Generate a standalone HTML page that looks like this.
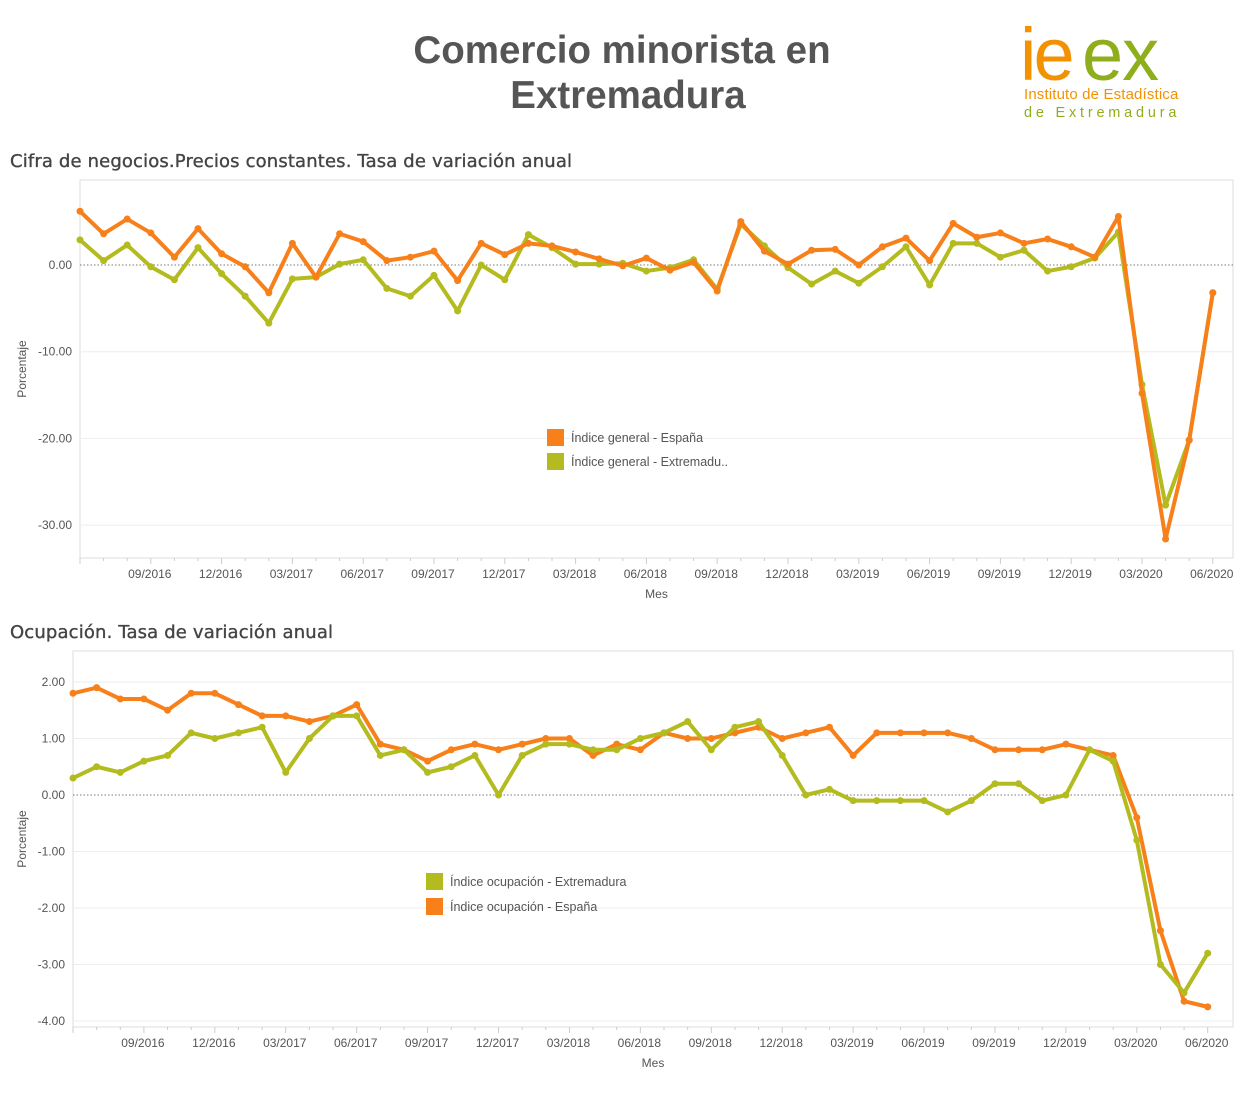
<!DOCTYPE html>
<html><head><meta charset="utf-8">
<style>
body{margin:0;background:#fff;width:1248px;height:1100px;overflow:hidden;font-family:"Liberation Sans",sans-serif;}
</style></head>
<body>
<svg id="s" width="1248" height="1100" xmlns="http://www.w3.org/2000/svg" font-family="Liberation Sans, sans-serif">
<text x="622" y="63" text-anchor="middle" font-size="38.5" font-weight="bold" fill="#555">Comercio minorista en</text>
<text x="628" y="108" text-anchor="middle" font-size="38.5" font-weight="bold" fill="#555">Extremadura</text>
<text x="1020" y="80" font-size="74" fill="#f39200" letter-spacing="-3">ie</text>
<text x="1082" y="80" font-size="74" fill="#8fae1b" letter-spacing="-1">ex</text>
<text x="1024" y="99" font-size="15" fill="#f39200" letter-spacing="-0.3" textLength="154">Instituto de Estadística</text>
<text x="1024" y="117" font-size="14.5" fill="#8fae1b" letter-spacing="2.6" textLength="155">de Extremadura</text>
<text x="10" y="167" font-size="18" fill="#444" stroke="#444" stroke-width="0.35" font-family="DejaVu Sans, sans-serif" textLength="562">Cifra de negocios.Precios constantes. Tasa de variación anual</text>
<text x="10" y="638" font-size="18" fill="#444" stroke="#444" stroke-width="0.35" font-family="DejaVu Sans, sans-serif" textLength="323">Ocupación. Tasa de variación anual</text>
<g id="g1"></g><g id="g2"></g>
</svg>
<script>
const NS="http://www.w3.org/2000/svg";
function el(p,t,a,txt){const e=document.createElementNS(NS,t);for(const k in a)e.setAttribute(k,a[k]);if(txt!==undefined)e.textContent=txt;p.appendChild(e);return e;}
const O="#f7801a",G="#b3bb1f";
const ticks=["09/2016","12/2016","03/2017","06/2017","09/2017","12/2017","03/2018","06/2018","09/2018","12/2018","03/2019","06/2019","09/2019","12/2019","03/2020","06/2020"];
function chart(g,c){
 const X=i=>c.x0+i*c.dx, Y=v=>c.y0-v*c.k;
 el(g,"rect",{x:c.L,y:c.T,width:c.R-c.L,height:c.B-c.T,fill:"none",stroke:"#ddd"});
 c.yt.forEach(v=>{ if(v!==0) el(g,"line",{x1:c.L,x2:c.R,y1:Y(v),y2:Y(v),stroke:"#eee"});
  el(g,"text",{x:c.L-8,y:Y(v)+4,"text-anchor":"end","font-size":12,fill:"#555"},v.toFixed(2));});
 el(g,"line",{x1:c.L,x2:c.R,y1:Y(0),y2:Y(0),stroke:"#777","stroke-dasharray":"1.5,2"});
 for(let i=0;i<49;i++){el(g,"line",{x1:X(i),x2:X(i),y1:c.B,y2:c.B+(i%3==0?6:3),stroke:"#ccc"});}
 ticks.forEach((t,j)=>el(g,"text",{x:X(3+3*j)-1,y:c.B+20,"text-anchor":"middle","font-size":12,fill:"#555"},t));
 el(g,"text",{x:(c.L+c.R)/2,y:c.B+40,"text-anchor":"middle","font-size":12,fill:"#555"},"Mes");
 el(g,"text",{x:0,y:0,transform:`translate(26,${(c.T+c.B)/2}) rotate(-90)`,"text-anchor":"middle","font-size":12,fill:"#555"},"Porcentaje");
 c.series.forEach(s=>{
  el(g,"polyline",{points:s.d.map((v,i)=>X(i)+","+Y(v)).join(" "),fill:"none",stroke:s.c,"stroke-width":4,"stroke-linejoin":"round"});
  s.d.forEach((v,i)=>el(g,"circle",{cx:X(i),cy:Y(v),r:3.5,fill:s.c}));
 });
 c.leg.forEach((l,j)=>{el(g,"rect",{x:l.x,y:l.y-8,width:17,height:17,fill:l.c});
  el(g,"text",{x:l.x+24,y:l.y+5,"font-size":12.5,fill:"#555"},l.t);});
}
const e1=[6.2,3.6,5.3,3.7,0.9,4.2,1.3,-0.2,-3.2,2.5,-1.4,3.6,2.7,0.5,0.9,1.6,-1.8,2.5,1.2,2.5,2.2,1.5,0.7,-0.1,0.8,-0.6,0.3,-3.0,5.0,1.6,0.1,1.7,1.8,0,2.1,3.1,0.5,4.8,3.2,3.7,2.5,3.0,2.1,0.9,5.6,-14.8,-31.6,-20.2,-3.2];
const x1=[2.9,0.5,2.3,-0.2,-1.7,2.0,-1.0,-3.6,-6.7,-1.6,-1.4,0.1,0.6,-2.7,-3.6,-1.2,-5.3,0,-1.7,3.5,2.0,0.1,0.1,0.2,-0.7,-0.3,0.6,-2.8,4.7,2.2,-0.3,-2.2,-0.7,-2.1,-0.2,2.1,-2.3,2.5,2.5,0.9,1.7,-0.7,-0.2,0.8,3.8,-13.8,-27.7,-20.2,-3.2];
const e2=[1.8,1.9,1.7,1.7,1.5,1.8,1.8,1.6,1.4,1.4,1.3,1.4,1.6,0.9,0.8,0.6,0.8,0.9,0.8,0.9,1.0,1.0,0.7,0.9,0.8,1.1,1.0,1.0,1.1,1.2,1.0,1.1,1.2,0.7,1.1,1.1,1.1,1.1,1.0,0.8,0.8,0.8,0.9,0.8,0.7,-0.4,-2.4,-3.65,-3.75];
const x2=[0.3,0.5,0.4,0.6,0.7,1.1,1.0,1.1,1.2,0.4,1.0,1.4,1.4,0.7,0.8,0.4,0.5,0.7,0.0,0.7,0.9,0.9,0.8,0.8,1.0,1.1,1.3,0.8,1.2,1.3,0.7,0.0,0.1,-0.1,-0.1,-0.1,-0.1,-0.3,-0.1,0.2,0.2,-0.1,0.0,0.8,0.6,-0.8,-3.0,-3.5,-2.8];
chart(document.getElementById("g1"),{L:80,R:1233,T:180,B:558,x0:80,dx:23.6,y0:265,k:8.67,yt:[0,-10,-20,-30],
 series:[{d:x1,c:G},{d:e1,c:O}],leg:[{x:547,y:437,c:O,t:"Índice general - España"},{x:547,y:461,c:G,t:"Índice general - Extremadu.."}]});
chart(document.getElementById("g2"),{L:73,R:1233,T:651,B:1027,x0:73,dx:23.64,y0:795,k:56.5,yt:[2,1,0,-1,-2,-3,-4],
 series:[{d:e2,c:O},{d:x2,c:G}],leg:[{x:426,y:881,c:G,t:"Índice ocupación - Extremadura"},{x:426,y:906,c:O,t:"Índice ocupación - España"}]});
</script>
</body></html>
